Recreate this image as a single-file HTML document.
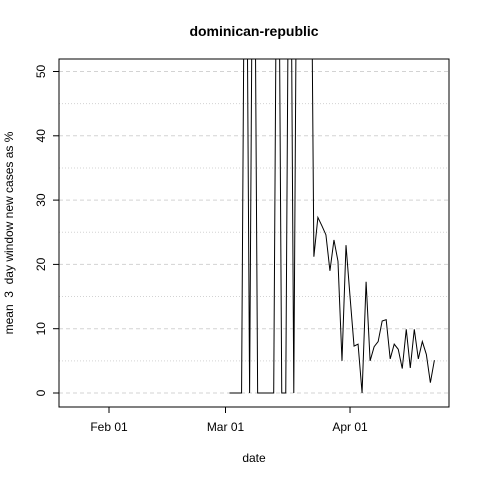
<!DOCTYPE html>
<html><head><meta charset="utf-8"><style>body{margin:0;background:#fff}svg{display:block;font-family:"Liberation Sans",sans-serif}</style></head>
<body>
<svg id="c" width="480" height="480"></svg>
<script>
const xTickLabels=["Feb 01","Mar 01","Apr 01"];
const xTickDays=[-29,0,31];
const yTicks=[0,10,20,30,40,50];
const days=[1,2,3,4,5,6,7,8,9,10,11,12,13,14,15,16,17,18,19,20,21,22,23,24,25,26,27,28,29,30,31,32,33,34,35,36,37,38,39,40,41,42,43,44,45,46,47,48,49,50,51,52];
const values=[0,0,0,0,100,0,100,0,0,0,0,0,100,0,0,100,0,100,100,100,100,21.2,27.3,26,24.6,19,23.8,20.5,5,23,15,7.3,7.6,0,17.3,5,7.2,8,11.2,11.4,5.3,7.6,6.8,3.8,9.9,3.9,9.9,5.3,8,6,1.6,5.1];
const L=59,R=449,T=59,B=407;
const X=d=>225.5+d*4.017;
const Y=v=>393-v*6.43;
const NS="http://www.w3.org/2000/svg";
const svg=document.getElementById('c');
function mk(t,a,txt){const e=document.createElementNS(NS,t);for(const k in a)e.setAttribute(k,a[k]);if(txt!==undefined)e.textContent=txt;svg.appendChild(e);return e;}
for(let v=0;v<=50;v+=5){
 const g=mk('line',{x1:L,x2:R,y1:Y(v),y2:Y(v),stroke:'#d3d3d3','stroke-dasharray':v%10===0?'4,3':'1,2'});
 
 
}
const defs=mk('defs',{});
const cp=document.createElementNS(NS,'clipPath');cp.setAttribute('id','clip');
const cr=document.createElementNS(NS,'rect');cr.setAttribute('x',L);cr.setAttribute('y',T);cr.setAttribute('width',R-L);cr.setAttribute('height',B-T);
cp.appendChild(cr);defs.appendChild(cp);
const line=mk('polyline',{points:days.map((d,i)=>X(d)+','+Y(values[i])).join(' '),fill:'none',stroke:'#000','stroke-width':1,'clip-path':'url(#clip)'});


const box=mk('rect',{x:L,y:T,width:R-L,height:B-T,fill:'none',stroke:'#000'});


xTickDays.forEach((d,i)=>{
 mk('line',{x1:X(d),x2:X(d),y1:B,y2:B+6,stroke:'#000'});
 const t=mk('text',{x:X(d),y:B+24,'text-anchor':'middle','font-size':12},xTickLabels[i]);
 
 
});
yTicks.forEach(v=>{
 mk('line',{x1:L,x2:L-6,y1:Y(v),y2:Y(v),stroke:'#000'});
 const t=mk('text',{x:0,y:0,'text-anchor':'middle','font-size':12,transform:`translate(45,${Y(v)}) rotate(-90)`},String(v));
 
 
});
const ti=mk('text',{x:254,y:36,'text-anchor':'middle','font-size':14,'font-weight':'bold'},'dominican-republic');


const xl=mk('text',{x:254,y:462,'text-anchor':'middle','font-size':12},'date');


const yl=mk('text',{x:0,y:0,'text-anchor':'middle','font-size':12,style:'white-space:pre',transform:'translate(13,233) rotate(-90)'},'mean  3  day window new cases as %');


</script>
</body></html>
